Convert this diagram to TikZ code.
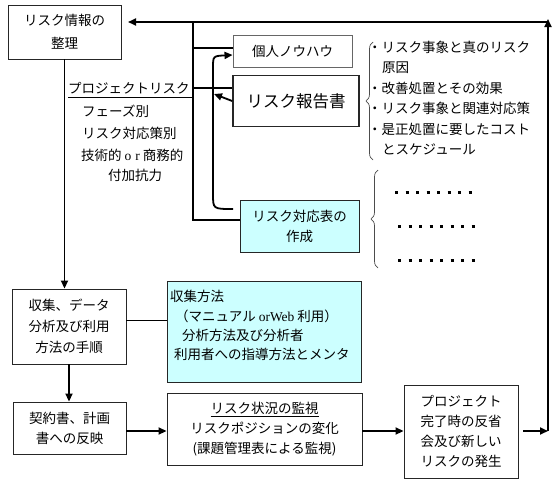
\documentclass[tikz,border=0pt]{standalone}
\usepackage{fontspec}
\setmainfont{Noto Sans CJK JP}
\newfontfamily\latf{Liberation Serif}
\usetikzlibrary{arrows.meta,decorations.pathreplacing}
\definecolor{cyanbg}{HTML}{CCFFFF}
\newcommand\jpf{\fontsize{13.5}{20}\selectfont}
\begin{document}
\begin{tikzpicture}[x=1pt,y=-1pt,
  box/.style={draw=black!85, line width=0.9pt, inner sep=0pt, align=center, font=\jpf},
  txt/.style={anchor=west, inner sep=0pt, font=\jpf},
  arr/.style={line width=1.8pt, -{Triangle[length=8pt,width=7pt]}},
  ln/.style={line width=1.2pt},
  thinln/.style={line width=0.8pt},
  dots/.style={line width=3pt, dash pattern=on 3pt off 7.5pt},
  brc/.style={draw=black!70, line width=0.7pt, decorate, decoration={brace, amplitude=7pt}}
]
\useasboundingbox (0,0) rectangle (560,485);

% boxes
\node[box, minimum width=113, minimum height=54] (b1) at (64.5,32) {リスク情報の\\[3pt]整理};
\node[box, draw=gray!80!black, minimum width=119, minimum height=32] (know) at (292.5,51) {個人ノウハウ};
\node[box, line width=1.6pt, minimum width=126, minimum height=51, font=\fontsize{16.5}{20}\selectfont] (rep) at (296,101) {リスク報告書};
\node[box, fill=cyanbg, minimum width=119, minimum height=52] (tbl) at (299.5,226) {リスク対応表の\\作成};
\node[box, minimum width=114, minimum height=75] (col) at (69,326.5) {収集、データ\\[1pt]分析及び利用\\[1pt]方法の手順};
\node[box, fill=cyanbg, minimum width=194, minimum height=101] (meth) at (264,331.5) {};
\node[box, minimum width=113, minimum height=52] (con) at (69.5,428) {契約書、計画\\書への反映};
\node[box, minimum width=195, minimum height=72] (mon) at (264.5,429) {\underline{リスク状況の監視}\\リスクポジションの変化\\(課題管理表による監視)};
\node[box, minimum width=114, minimum height=93] (prj) at (461,431.5) {プロジェクト\\完了時の反省\\会及び新しい\\リスクの発生};

% text in cyan box
\node[txt] (m1) at (170,296) {収集方法};
\node[txt] (m2) at (175,316) {（マニュアル {\latf orWeb} 利用）};
\node[txt] (m3) at (182,335) {分析方法及び分析者};
\node[txt] (m4) at (174,354) {利用者への指導方法とメンタ};

% left label texts
\node[txt] (pr) at (68,88) {プロジェクトリスク};
\node[txt] (l1) at (82,111) {フェーズ別};
\node[txt] (l2) at (82,133) {リスク対応策別};
\node[txt] (l3) at (81,155) {技術的\hspace{3pt}{\latf o\hspace{4pt}r}\hspace{3pt}商務的};
\node[txt] (l4) at (108,175) {付加抗力};

% right list
\node[txt] (t1) at (368,47) {・リスク事象と真のリスク};
\node[txt] (t2) at (382,67.5) {原因};
\node[txt] (t3) at (368,88) {・改善処置とその効果};
\node[txt] (t4) at (368,108.5) {・リスク事象と関連対応策};
\node[txt] (t5) at (368,129) {・是正処置に要したコスト};
\node[txt] (t6) at (382,149.5) {とスケジュール};

% braces
\draw[brc] (373,160) -- (373,42);
\draw[brc] (378,268) -- (378,170);

% dot rows
\draw[dots] (395,192) -- (472,192);
\draw[dots] (398,226) -- (475,226);
\draw[dots] (398,260) -- (475,260);

% coordinates
\coordinate (c1) at (548,431);
\coordinate (c2) at (548,19);
\coordinate (c3) at (548,22);
\coordinate (c4) at (128,22);
\coordinate (v0) at (193,22);
\coordinate (v1) at (193,220);
\coordinate (k0) at (193,48);
\coordinate (r0) at (193,88);
\coordinate (u0) at (68,97);
\coordinate (u1) at (193,97);
\coordinate (cs) at (233,209);
\coordinate (ra) at (214,94);

% main loop
\draw[arr] ([xshift=5pt]prj.east |- c1) -- (c1);
\draw[arr] (c1) -- (c2);
\draw[arr] (c3) -- (c4);

% branch lines
\draw[ln] (v0) -- (v1) -- (v1 -| tbl.west);
\draw[ln] (k0) -- (k0 -| know.west);
\draw[ln] (r0) -- (r0 -| rep.west);
\draw[thinln] (u0) -- (u1);

% curved arrows
\draw[arr] (cs) .. controls (213,209) .. (213,194) -- (213,68) .. controls (213,56) .. ([yshift=-4pt]know.west);
\draw[arr] (rep.west) -- (ra);

% vertical flow
\draw[arr] (b1.south) -- (b1.south |- col.north);
\draw[arr] (col.south) -- (col.south |- con.north);
\draw[ln] ([yshift=6pt]col.east) -- ([yshift=6pt]col.east -| meth.west);
\draw[arr] (con.east |- c1) -- (mon.west |- c1);
\draw[arr] (mon.east |- c1) -- (prj.west |- c1);
\end{tikzpicture}
\end{document}
